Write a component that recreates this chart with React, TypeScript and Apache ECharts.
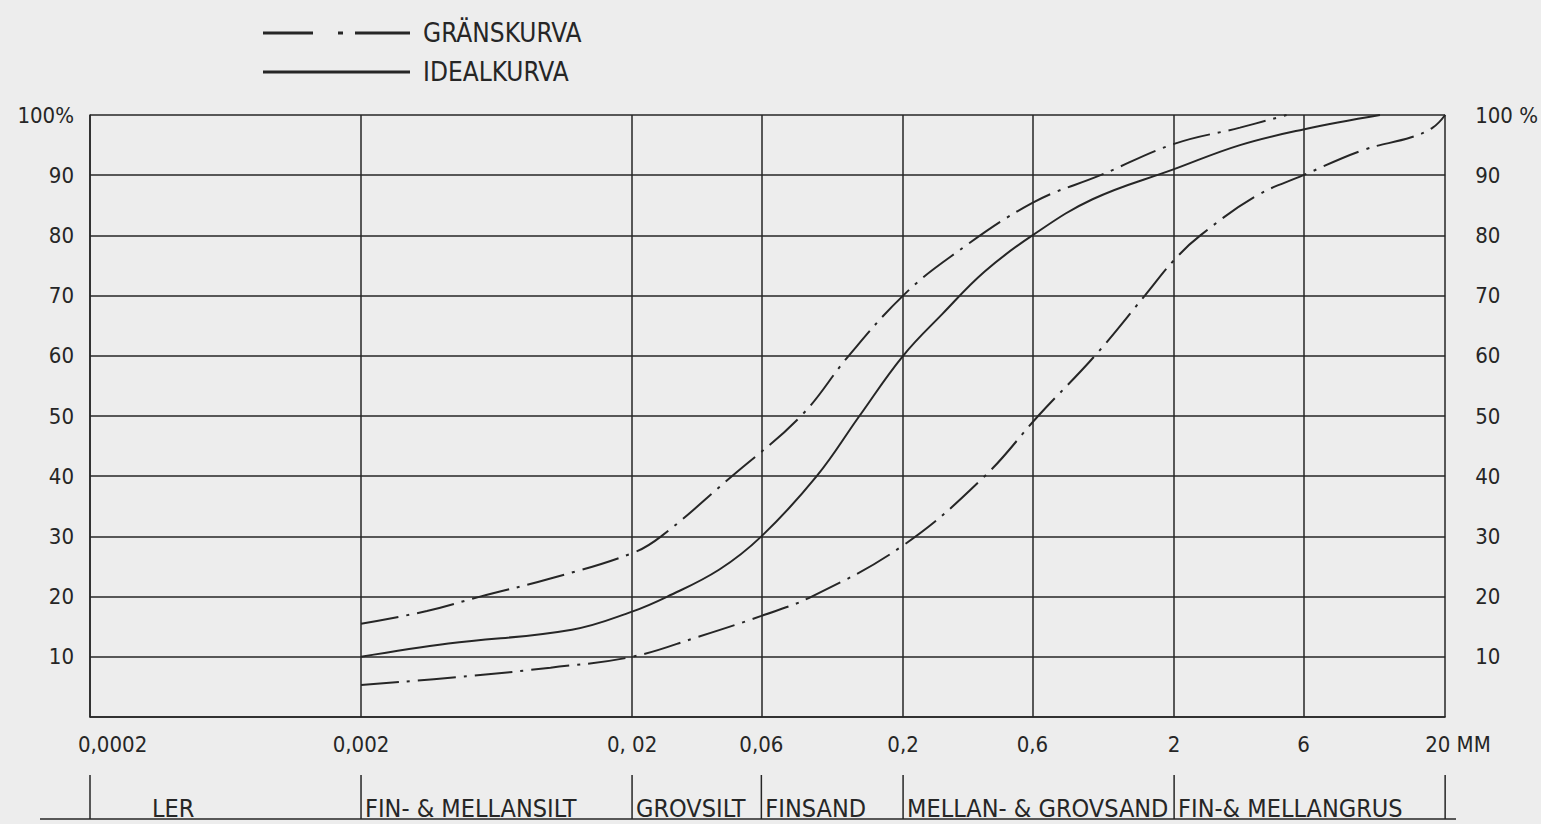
import React, { useEffect, useRef } from "react";
import * as echarts from "echarts";

// grain sizes (mm) of the vertical grid lines and their labels
const GRID_X = [0.0002, 0.002, 0.02, 0.06, 0.2, 0.6, 2, 6, 20];
const X_TICK_LABELS = ["0,0002", "0,002", "0, 02", "0,06", "0,2", "0,6", "2", "6", "20 MM"];

// soil classification band
const BAND_BOUNDS = [0.0002, 0.002, 0.02, 0.06, 0.2, 2, 20];
const BAND_LABELS = ["LER", "FIN- & MELLANSILT", "GROVSILT", "FINSAND", "MELLAN- & GROVSAND", "FIN-& MELLANGRUS"];

// curves: [grain size mm, passing %]
const IDEAL = [
  [0.002, 10], [0.0042, 12.2], [0.012, 14.5], [0.02, 17.5], [0.027, 20], [0.042, 24.5],
  [0.06, 30], [0.096, 40], [0.138, 50], [0.2, 60], [0.28, 67], [0.4, 74], [0.6, 80],
  [1, 86], [2, 91], [3.5, 95], [6, 97.6], [11.5, 100],
];
const UPPER_LIMIT = [
  [0.002, 15.5], [0.0035, 17.6], [0.0055, 20], [0.01, 23], [0.02, 27.2], [0.0256, 30],
  [0.0467, 40], [0.084, 50], [0.126, 60], [0.2, 70], [0.3, 76.5],
  [0.6, 85.4], [1.07, 90], [2, 95.2], [3.5, 97.9], [5.2, 100],
];
const LOWER_LIMIT = [
  [0.002, 5.3], [0.005, 6.8], [0.01, 8.2], [0.02, 10], [0.035, 13.3], [0.06, 16.8],
  [0.092, 20], [0.2, 28.5], [0.4, 40], [0.63, 50], [1.02, 60], [1.56, 70],
  [2, 75.9], [2.5, 80], [4, 86.5], [6, 90], [10, 94.2], [15, 96.3], [18, 97.9], [20, 100],
];

const FONT = "DejaVu Sans Condensed";
const INK = "#262626";
const BG = "#ededed";

export default function App() {
  const ref = useRef<HTMLDivElement>(null);
  useEffect(() => {
    document.body.style.margin = "0";
    if (!ref.current) return;
    const chart = echarts.init(ref.current, undefined, { renderer: "svg" });
    const curveLine = (name: string, data: number[][], dashed: boolean) => ({
      name,
      type: "line",
      data,
      smooth: 0.4,
      symbol: "none",
      color: INK,
      itemStyle: { color: INK },
      lineStyle: { color: INK, width: 2, type: dashed ? [38, 8, 3, 8] : "solid" },
      z: 5,
      silent: true,
    });
    chart.setOption({
      animation: false,
      backgroundColor: BG,
      textStyle: { fontFamily: FONT, color: INK },
      grid: { left: 90, right: 93, top: 115, height: 602 },
      legend: {
        orient: "vertical",
        left: 258,
        top: 14,
        itemWidth: 147,
        itemHeight: 3,
        itemGap: 11,
        selectedMode: false,
        textStyle: { fontFamily: FONT, fontSize: 26, color: INK, padding: [0, 0, 0, 8], lineHeight: 28 },
        data: [
          { name: "GRÄNSKURVA", icon: "path://M0,0H50V3H0Z M75,0H80V3H75Z M92,0H147V3H92Z" },
          { name: "IDEALKURVA", icon: "path://M0,0H147V3H0Z" },
        ],
      },
      xAxis: {
        type: "log",
        logBase: 10,
        min: 0.0002,
        max: 20,
        axisLine: { show: true, lineStyle: { color: INK, width: 1.5 } },
        axisTick: { show: false },
        axisLabel: { show: false },
        splitLine: { show: false },
        minorSplitLine: { show: false },
      },
      yAxis: [
        {
          type: "value",
          min: 0,
          max: 100,
          interval: 10,
          axisLine: { show: true, lineStyle: { color: INK, width: 1.5 } },
          axisTick: { show: false },
          axisLabel: {
            fontFamily: FONT,
            fontSize: 22,
            color: INK,
            margin: 16,
            formatter: (v: number) => (v === 100 ? "100%" : v === 0 ? "" : String(v)),
          },
          splitLine: { show: true, lineStyle: { color: INK, width: 1.5 } },
        },
        {
          type: "value",
          position: "right",
          min: 0,
          max: 100,
          interval: 10,
          axisLine: { show: false },
          axisTick: { show: false },
          axisLabel: {
            fontFamily: FONT,
            fontSize: 22,
            color: INK,
            margin: 30,
            formatter: (v: number) => (v === 100 ? "100 %" : v === 0 ? "" : String(v)),
          },
          splitLine: { show: false },
        },
      ],
      graphic: [
        {
          type: "line",
          shape: { x1: 40, y1: 819, x2: 1456, y2: 819 },
          style: { stroke: INK, lineWidth: 1.5 },
          silent: true,
        },
      ],
      series: [
        curveLine("GRÄNSKURVA", LOWER_LIMIT, true),
        curveLine("GRÄNSKURVA", UPPER_LIMIT, true),
        {
          ...curveLine("IDEALKURVA", IDEAL, false),
          markLine: {
            silent: true,
            precision: 6,
            symbol: ["none", "none"],
            z: 1,
            lineStyle: { color: INK, width: 1.5, type: "solid" },
            label: {
              position: "start",
              formatter: "{b}",
              fontFamily: FONT,
              fontSize: 22,
              color: INK,
              distance: 16,
            },
            data: GRID_X.map((v, i) => {
              const item: any = { xAxis: v, name: X_TICK_LABELS[i] };
              if (i === 0) item.label = { align: "left", offset: [-12, 0] };
              if (i === GRID_X.length - 1) item.label = { align: "left", offset: [-20, 0] };
              return item;
            }),
          },
        },
        {
          type: "custom",
          name: "band",
          silent: true,
          clip: false,
          data: BAND_BOUNDS.map((v) => [v, 0]),
          renderItem: (params: any, api: any) => {
            const p = api.coord([api.value(0), 0]);
            const x = p[0];
            const yBase = p[1];
            const i = params.dataIndex;
            const children: any[] = [
              {
                type: "line",
                shape: { x1: x, y1: yBase + 58, x2: x, y2: yBase + 102 },
                style: { stroke: INK, lineWidth: 1.5 },
              },
            ];
            if (i < BAND_LABELS.length) {
              children.push({
                type: "text",
                x: x + (i === 0 ? 62 : 4),
                y: yBase + 91,
                style: {
                  text: BAND_LABELS[i],
                  fill: INK,
                  fontFamily: FONT,
                  fontSize: 25,
                  verticalAlign: "middle",
                  align: "left",
                },
              });
            }
            return { type: "group", children };
          },
        },
      ],
    });
    return () => chart.dispose();
  }, []);
  return <div ref={ref} style={{ width: 1541, height: 824 }} />;
}
